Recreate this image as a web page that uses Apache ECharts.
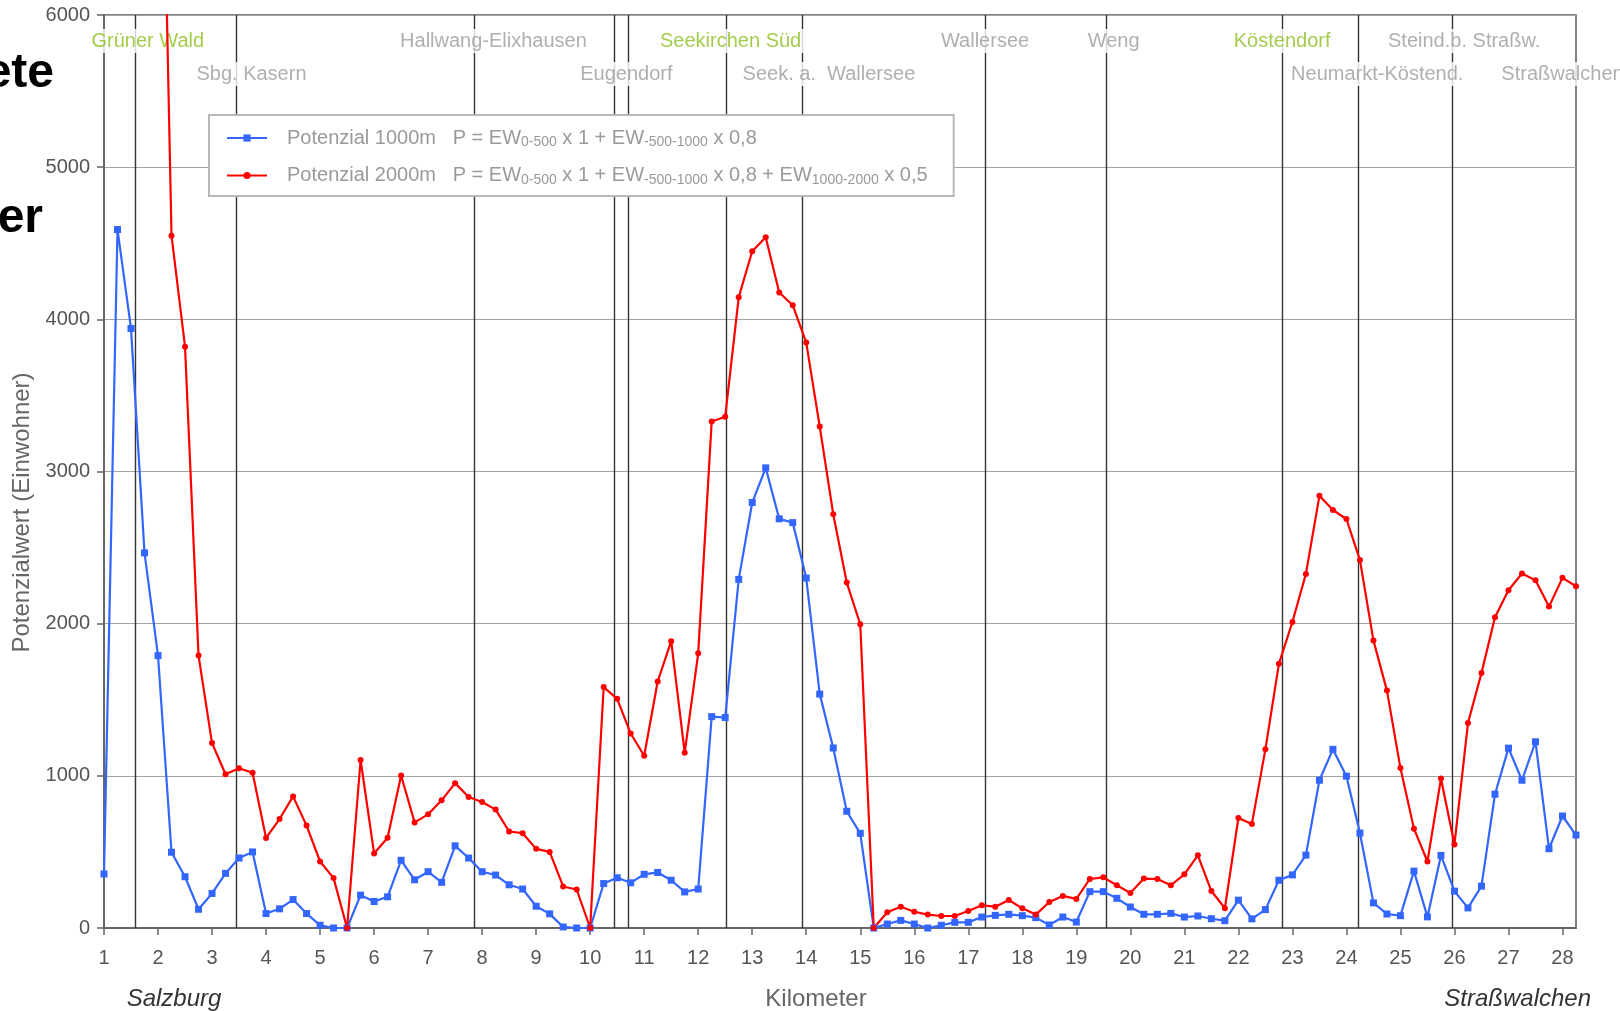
<!DOCTYPE html>
<html>
<head>
<meta charset="utf-8">
<title>Potenzialwert</title>
<script src="https://cdn.jsdelivr.net/npm/echarts@6/dist/echarts.min.js"></script>
<style>
  html, body { margin: 0; padding: 0; background: #fff; }
  #chart { width: 1620px; height: 1011px; }
</style>
</head>
<body>
<div id="chart"></div>
<script>
// Messpunkte alle 250 m (Kilometer)
const km = [
  1, 1.25, 1.5, 1.75,
  2, 2.25, 2.5, 2.75,
  3, 3.25, 3.5, 3.75,
  4, 4.25, 4.5, 4.75,
  5, 5.25, 5.5, 5.75,
  6, 6.25, 6.5, 6.75,
  7, 7.25, 7.5, 7.75,
  8, 8.25, 8.5, 8.75,
  9, 9.25, 9.5, 9.75,
  10, 10.25, 10.5, 10.75,
  11, 11.25, 11.5, 11.75,
  12, 12.25, 12.5, 12.75,
  13, 13.25, 13.5, 13.75,
  14, 14.25, 14.5, 14.75,
  15, 15.25, 15.5, 15.75,
  16, 16.25, 16.5, 16.75,
  17, 17.25, 17.5, 17.75,
  18, 18.25, 18.5, 18.75,
  19, 19.25, 19.5, 19.75,
  20, 20.25, 20.5, 20.75,
  21, 21.25, 21.5, 21.75,
  22, 22.25, 22.5, 22.75,
  23, 23.25, 23.5, 23.75,
  24, 24.25, 24.5, 24.75,
  25, 25.25, 25.5, 25.75,
  26, 26.25, 26.5, 26.75,
  27, 27.25, 27.5, 27.75,
  28, 28.25
]

// Potenzial 1000m (Einwohner)
const pot1000 = [
  355, 4590, 3940, 2465,
  1790, 498, 337, 123,
  227, 359, 460, 500,
  95, 126, 187, 95,
  18, 0, 0, 216,
  174, 205, 445, 317,
  370, 300, 540, 460,
  370, 348, 284, 256,
  143, 93, 7, 0,
  0, 292, 330, 297,
  353, 365, 314, 237,
  256, 1389, 1383, 2291,
  2796, 3024, 2689, 2664,
  2300, 1537, 1183, 767,
  622, 0, 26, 50,
  26, 0, 18, 37,
  37, 72, 83, 90,
  81, 68, 20, 72,
  39, 239, 239, 195,
  138, 90, 90, 96,
  72, 79, 61, 48,
  183, 60, 121, 314,
  349, 479, 971, 1174,
  998, 624, 165, 92,
  81, 374, 73, 477,
  242, 132, 275, 879,
  1182, 971, 1224, 521,
  736, 611
]

// Potenzial 2000m (Einwohner), Anfang liegt ueber 6000
const pot2000 = [
  9800, 11400, 11000, 9900,
  8800, 4550, 3820, 1790,
  1215, 1010, 1050, 1020,
  592, 716, 865, 673,
  437, 328, 0, 1104,
  490, 593, 1002, 694,
  747, 839, 952, 861,
  828, 778, 634, 623,
  520, 500, 273, 253,
  0, 1583, 1506, 1278,
  1132, 1620, 1885, 1152,
  1805, 3329, 3360, 4145,
  4447, 4540, 4176, 4093,
  3847, 3295, 2719, 2270,
  1996, 0, 103, 140,
  107, 88, 79, 79,
  112, 149, 140, 184,
  129, 88, 171, 211,
  191, 322, 333, 281,
  230, 325, 322, 281,
  353, 478, 243, 130,
  723, 684, 1174, 1736,
  2011, 2327, 2840, 2747,
  2688, 2418, 1890, 1560,
  1051, 653, 437, 982,
  549, 1347, 1675, 2042,
  2220, 2330, 2286, 2112,
  2301, 2246
]

// Haltestellen
const stationLineKm = [1.57, 3.45, 7.86, 10.45, 10.71, 12.51, 13.92, 17.31, 19.55, 22.82, 24.22, 25.95]
const stationNames = ['Grüner Wald', 'Sbg. Kasern', 'Hallwang-Elixhausen', 'Eugendorf', 'Seekirchen Süd',
  'Seek. a.  Wallersee', 'Wallersee', 'Weng', 'Köstendorf', 'Neumarkt-Köstend.', 'Steind.b. Straßw.', 'Straßwalchen']
const stationLabelKm = [1.81, 3.73, 8.21, 10.67, 12.6, 14.42, 17.31, 19.69, 22.81, 24.57, 26.18, 28.0]
const stationRow = [1, 2, 1, 2, 1, 2, 1, 1, 1, 2, 1, 2]
const stationNew = [true, false, false, false, true, false, false, false, true, false, false, false]

const seriesNames = ['Potenzial 1000m', 'Potenzial 2000m']
const legendFormula = {
  'Potenzial 1000m': 'Potenzial 1000m   P = EW{s|0-500} x 1 + EW{s|-500-1000} x 0,8',
  'Potenzial 2000m': 'Potenzial 2000m   P = EW{s|0-500} x 1 + EW{s|-500-1000} x 0,8 + EW{s|1000-2000} x 0,5'
}

const font = 'Liberation Sans, Arial, sans-serif'
const green = '#8dbf1e'
const gray = '#9b9b9b'

const chart = echarts.init(document.getElementById('chart'))

chart.setOption({
  animation: false,
  backgroundColor: '#fff',
  textStyle: { fontFamily: font },
  grid: {
    left: 104, top: 15, right: 44, bottom: 83,
    outerBoundsMode: 'none',
    show: true, borderColor: '#555', borderWidth: 1.5, backgroundColor: 'transparent'
  },
  legend: {
    data: seriesNames,
    orient: 'vertical',
    left: 209, top: 115,
    itemWidth: 40, itemHeight: 9, itemGap: 16,
    padding: [13, 26, 9, 17],
    backgroundColor: '#fff',
    borderColor: '#b8b8b8', borderWidth: 2, borderRadius: 0,
    formatter: function(name) {
      return legendFormula[name]
    },
    textStyle: {
      color: '#9a9a9a', fontSize: 20, fontFamily: font,
      padding: [0, 0, 0, 15],
      rich: {
        s: { fontSize: 14, color: '#9a9a9a', fontFamily: font, padding: [9, 0, 0, 0] }
      }
    }
  },
  graphic: [
    { type: 'text', x: 54, y: 74, style: { text: 'ete', font: 'bold 48px ' + font, fill: '#000', align: 'right', verticalAlign: 'middle' } },
    { type: 'text', x: 43, y: 219, style: { text: 'er', font: 'bold 48px ' + font, fill: '#000', align: 'right', verticalAlign: 'middle' } },
    { type: 'text', x: 174, y: 999, style: { text: 'Salzburg', font: 'italic 24px ' + font, fill: '#333', align: 'center', verticalAlign: 'middle' } },
    { type: 'text', x: 1591, y: 999, style: { text: 'Straßwalchen', font: 'italic 24px ' + font, fill: '#333', align: 'right', verticalAlign: 'middle' } }
  ],
  xAxis: {
    type: 'value',
    min: 1, max: 28.25, interval: 1,
    name: 'Kilometer',
    nameLocation: 'middle',
    nameGap: 59,
    nameTextStyle: { color: '#666', fontSize: 24, fontFamily: font, padding: [0, 48, 0, 0] },
    axisLine: { show: true, lineStyle: { color: '#666', width: 2 } },
    axisTick: { show: true, length: 7, lineStyle: { color: '#666', width: 1.5 } },
    axisLabel: { color: '#555', fontSize: 20, margin: 20, fontFamily: font, showMaxLabel: false },
    splitLine: { show: false }
  },
  yAxis: {
    type: 'value',
    min: 0, max: 6000, interval: 1000,
    name: 'Potenzialwert (Einwohner)',
    nameLocation: 'middle',
    nameGap: 64,
    nameTextStyle: { color: '#666', fontSize: 24, fontFamily: font, padding: [0, 82, 0, 0] },
    axisLine: { show: true, lineStyle: { color: '#666', width: 2 } },
    axisTick: { show: true, length: 7, lineStyle: { color: '#666', width: 1.5 } },
    axisLabel: {
      color: '#555', fontSize: 20, margin: 14, fontFamily: font,
      formatter: function(v) { return String(v) }
    },
    splitLine: { show: true, lineStyle: { color: '#a4a4a4', width: 1 } }
  },
  series: [
    {
      name: 'Haltestellen',
      type: 'scatter',
      z: 2,
      clip: false,
      silent: true,
      symbolSize: 0,
      data: stationNames.map(function(n, i) {
        return {
          name: n,
          value: [stationLabelKm[i], 6000],
          label: {
            offset: [0, stationRow[i] === 1 ? 26 : 59],
            color: stationNew[i] ? green : gray
          }
        }
      }),
      label: {
        show: true,
        position: 'inside',
        formatter: '{b}',
        fontSize: 20,
        fontFamily: font,
        backgroundColor: '#fff',
        padding: [2, 3, 2, 3]
      },
      markLine: {
        z: 1,
        silent: true,
        symbol: 'none',
        label: { show: false },
        lineStyle: { color: '#333', width: 1.4, type: 'solid' },
        emphasis: { disabled: true },
        data: stationLineKm.map(function(k) { return { xAxis: k } })
      }
    },
    {
      name: seriesNames[0],
      type: 'line',
      z: 3,
      data: km.map(function(k, i) { return [k, pot1000[i]] }),
      symbol: 'rect',
      symbolSize: 7,
      color: '#3366ff',
      lineStyle: { color: '#3366ff', width: 2.2 },
      itemStyle: { color: '#3366ff' }
    },
    {
      name: seriesNames[1],
      type: 'line',
      z: 3,
      data: km.map(function(k, i) { return [k, pot2000[i]] }),
      symbol: 'circle',
      symbolSize: 6,
      color: '#ff0000',
      lineStyle: { color: '#ff0000', width: 2.2 },
      itemStyle: { color: '#ff0000' }
    }
  ]
})
</script>
</body>
</html>
